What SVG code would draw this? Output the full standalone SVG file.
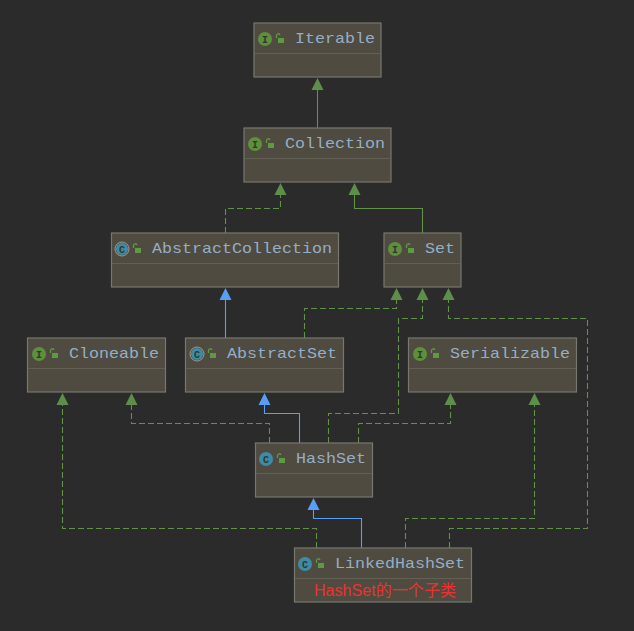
<svg xmlns="http://www.w3.org/2000/svg" width="634" height="631" viewBox="0 0 634 631">
<style>
.n{fill:#4f4b40;stroke:#77776f;stroke-width:1.2}
.d{stroke:#625f55;stroke-width:1;fill:none}
.t{font-family:"Liberation Mono",monospace;font-size:15px;fill:#95aec8}
.bi{fill:#5d8f3d}.bc{fill:#3f8aa6}
.bt{font-family:"Liberation Mono",monospace;font-size:10px;font-weight:bold;fill:#2b3a2a;text-anchor:middle}
.lk{fill:#5d9a42}.ls{fill:none;stroke:#5d9a42;stroke-width:1.3}
.g{fill:none;stroke:#5f9148;stroke-width:1.1}
.gd{fill:none;stroke:#5f9148;stroke-width:1.1;stroke-dasharray:6 3}
.b{fill:none;stroke:#589df6;stroke-width:1.1}
.ag{fill:#5d8f4a}.ab{fill:#589df6}
</style>
<rect width="634" height="631" fill="#2b2b2b"/>
<g id="connectors">
<path class="g" d="M317.500 128V88"/>
<path class="gd" d="M225.500 233V208.500H280.500V192"/>
<path class="g" d="M422.500 233V208.500H354.500V192"/>
<path class="b" d="M225.500 338V298"/>
<path class="gd" d="M304.500 338V308.500H396.500V298"/>
<path class="gd" d="M328.500 443V413.500H398.500V318.500H422.500V298"/>
<path class="gd" d="M449.500 548V528.500H587.500V318.500H448.500V298"/>
<path class="gd" d="M405.500 548V518.500H534.500V403"/>
<path class="gd" d="M358.500 443V423.500H450.500V403"/>
<path class="b" d="M299.500 443V413.500H264.500V403"/>
<path class="gd" d="M269.500 443V423.500H131.500V403"/>
<path class="gd" d="M316.500 548V528.500H62.500V403"/>
<path class="b" d="M361.500 548V518.500H313.500V508"/>
<polygon class="ag" points="317.500,78 323.500,90 311.500,90"/>
<polygon class="ag" points="280.500,183 286.500,195 274.500,195"/>
<polygon class="ag" points="354.500,183 360.500,195 348.500,195"/>
<polygon class="ab" points="225.500,288 231.500,300 219.500,300"/>
<polygon class="ag" points="396.500,288 402.500,300 390.500,300"/>
<polygon class="ag" points="422.500,288 428.500,300 416.500,300"/>
<polygon class="ag" points="448.500,288 454.500,300 442.500,300"/>
<polygon class="ag" points="62.500,393 68.500,405 56.500,405"/>
<polygon class="ag" points="131.500,393 137.500,405 125.500,405"/>
<polygon class="ab" points="264.500,393 270.500,405 258.500,405"/>
<polygon class="ag" points="450.500,393 456.500,405 444.500,405"/>
<polygon class="ag" points="534.500,393 540.500,405 528.500,405"/>
<polygon class="ab" points="313.500,498 319.500,510 307.500,510"/>
</g>
<defs>
<g id="lock"><path class="ls" d="M-3.500 -1V-3.500a1.800 1.800 0 0 1 3.500 -0.500"/><rect class="lk" x="-2" y="-1" width="6" height="5"/></g>
</defs>
<g id="iterable"><rect class="n" x="254" y="23" width="127" height="54"/><path class="d" d="M255 53.500H380"/><circle class="bi" cx="265" cy="39" r="7"/><text class="bt" x="265" y="42.500">I</text><use href="#lock" x="280" y="39"/><text class="t" x="295" y="43" textLength="80" lengthAdjust="spacingAndGlyphs">Iterable</text></g>
<g id="collection"><rect class="n" x="244" y="128" width="147" height="54"/><path class="d" d="M245 158.500H390"/><circle class="bi" cx="255" cy="144" r="7"/><text class="bt" x="255" y="147.500">I</text><use href="#lock" x="270" y="144"/><text class="t" x="285" y="148" textLength="100" lengthAdjust="spacingAndGlyphs">Collection</text></g>
<g id="abstractcollection"><rect class="n" x="111.500" y="233" width="227" height="54"/><path class="d" d="M112 263.500H338"/><circle cx="122" cy="249" r="7" fill="none" stroke="#9a9a94"/><circle class="bc" cx="122" cy="249" r="6"/><text class="bt" x="122" y="252.500">C</text><use href="#lock" x="137" y="249"/><text class="t" x="152" y="253" textLength="180" lengthAdjust="spacingAndGlyphs">AbstractCollection</text></g>
<g id="set"><rect class="n" x="384" y="233" width="77" height="54"/><path class="d" d="M385 263.500H460"/><circle class="bi" cx="395" cy="249" r="7"/><text class="bt" x="395" y="252.500">I</text><use href="#lock" x="410" y="249"/><text class="t" x="425" y="253" textLength="30" lengthAdjust="spacingAndGlyphs">Set</text></g>
<g id="cloneable"><rect class="n" x="27.500" y="338" width="138" height="54"/><path class="d" d="M28 368.500H165"/><circle class="bi" cx="39" cy="354" r="7"/><text class="bt" x="39" y="357.500">I</text><use href="#lock" x="54" y="354"/><text class="t" x="69" y="358" textLength="90" lengthAdjust="spacingAndGlyphs">Cloneable</text></g>
<g id="abstractset"><rect class="n" x="185.500" y="338" width="158" height="54"/><path class="d" d="M186 368.500H343"/><circle cx="197" cy="354" r="7" fill="none" stroke="#9a9a94"/><circle class="bc" cx="197" cy="354" r="6"/><text class="bt" x="197" y="357.500">C</text><use href="#lock" x="212" y="354"/><text class="t" x="227" y="358" textLength="110" lengthAdjust="spacingAndGlyphs">AbstractSet</text></g>
<g id="serializable"><rect class="n" x="408.500" y="338" width="168" height="54"/><path class="d" d="M409 368.500H576"/><circle class="bi" cx="420" cy="354" r="7"/><text class="bt" x="420" y="357.500">I</text><use href="#lock" x="435" y="354"/><text class="t" x="450" y="358" textLength="120" lengthAdjust="spacingAndGlyphs">Serializable</text></g>
<g id="hashset"><rect class="n" x="255.500" y="443" width="117" height="54"/><path class="d" d="M256 473.500H372"/><circle class="bc" cx="266" cy="459" r="7"/><text class="bt" x="266" y="462.500">C</text><use href="#lock" x="281" y="459"/><text class="t" x="296" y="463" textLength="70" lengthAdjust="spacingAndGlyphs">HashSet</text></g>
<g id="linkedhashset"><rect class="n" x="294.500" y="548" width="177" height="54"/><path class="d" d="M295 578.500H471"/><circle class="bc" cx="305" cy="564" r="7"/><text class="bt" x="305" y="567.500">C</text><use href="#lock" x="320" y="564"/><text class="t" x="335" y="568" textLength="130" lengthAdjust="spacingAndGlyphs">LinkedHashSet</text><text x="314" y="596" textLength="142" font-family="'Liberation Sans','Noto Sans CJK SC',sans-serif" font-size="16" fill="#f03030">HashSet的一个子类</text></g>
</svg>
